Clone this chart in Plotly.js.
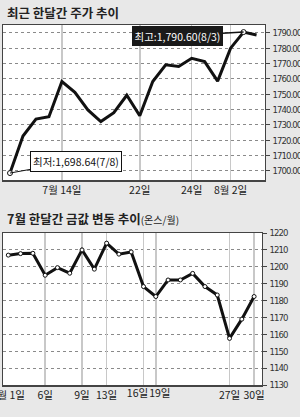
<!DOCTYPE html>
<html>
<head>
<meta charset="utf-8">
<script src="https://cdn.plot.ly/plotly-3.0.1.min.js"></script>
<style>
html,body{margin:0;padding:0;background:#e8e8e8;}
#chart{width:300px;height:417px;}
g.ytick text, g.y2tick text{letter-spacing:-0.9px;}
</style>
</head>
<body>
<div id="chart"></div>
<script>
// KOSPI — 최근 한달간 주가 추이
const stockDates = ['7/8','7/9','7/12','7/13','7/14','7/15','7/16','7/19','7/20','7/21','7/22','7/23','7/26','7/27','7/28','7/29','7/30','8/2','8/3','8/4'];
const stockValues = [1698.64,1722.8,1733.9,1735.4,1758.3,1751.3,1739.8,1732.2,1738.0,1749.4,1736.0,1758.3,1769.3,1768.2,1773.5,1771.3,1758.6,1780.1,1790.6,1788.7];
const stockTickDates = ['7/14','7/22','7/28','8/2'];
const stockTickLabels = ['7월 14일','22일','24일','8월 2일'];
const stockYTicks = [1700,1710,1720,1730,1740,1750,1760,1770,1780,1790];

// 금값 — 7월 한달간 금값 변동 추이
const goldDates = ['7/1','7/2','7/5','7/6','7/7','7/8','7/9','7/12','7/13','7/14','7/15','7/16','7/19','7/20','7/21','7/22','7/23','7/26','7/27','7/28','7/30'];
const goldValues = [1206.9,1207.8,1208.0,1195.0,1199.5,1196.2,1210.0,1198.6,1214.0,1207.5,1208.8,1188.3,1182.4,1192.2,1192.2,1196.1,1188.3,1183.3,1157.6,1169.0,1182.4];
const goldTickDates = ['7/1','7/6','7/9','7/13','7/27','7/30'];
const goldTickLabels = ['7월 1일','6일','9일','13일','27일','30일'];
const goldTickDateA = ['7/16'];
const goldTickLabelA = ['16일'];
const goldTickDateB = ['7/19'];
const goldTickLabelB = ['19일'];
const goldGridDates = ['7/6','7/9','7/13','7/16','7/19','7/27','7/30'];
const goldYTicks = [1130,1140,1150,1160,1170,1180,1190,1200,1210,1220];

const KR = "'Noto Sans CJK KR', sans-serif";
const NUM = "'DejaVu Sans Condensed', 'Liberation Sans', sans-serif";

const maxI = stockValues.indexOf(Math.max(...stockValues));
const minI = stockValues.indexOf(Math.min(...stockValues));
const fmt = v => v.toLocaleString('en-US',{minimumFractionDigits:2,maximumFractionDigits:2});

const traces = [
  {x: stockDates, y: stockValues, xaxis:'x', yaxis:'y', type:'scatter', mode:'lines',
   line:{color:'#111', width:3}},
  {x: [stockDates[minI], stockDates[maxI]], y: [stockValues[minI], stockValues[maxI]], xaxis:'x', yaxis:'y',
   type:'scatter', mode:'markers', marker:{size:5, color:'#fff', line:{color:'#111', width:1}}},
  {x: goldDates, y: goldValues, xaxis:'x2', yaxis:'y2', type:'scatter', mode:'lines+markers',
   line:{color:'#111', width:3}, marker:{size:4, color:'#fff', line:{color:'#111', width:1}}},
  {x: goldDates, y: goldValues, xaxis:'x3', yaxis:'y2', type:'scatter', mode:'none', showlegend:false},
  {x: goldDates, y: goldValues, xaxis:'x4', yaxis:'y2', type:'scatter', mode:'none', showlegend:false},
  {x: goldDates, y: goldValues, xaxis:'x5', yaxis:'y2', type:'scatter', mode:'none', showlegend:false}
];

const yCommon = {side:'right', showline:true, mirror:true, linecolor:'#444', linewidth:1.5,
  ticks:'outside', ticklen:4, tickcolor:'#444', tickfont:{family:NUM, size:9.5, color:'#333'},
  showgrid:true, gridcolor:'#8a8a8a', griddash:'dot', gridwidth:1, zeroline:false, fixedrange:true};

const goldRange = [-0.43,20.64];
const labelAxis = (vals, text, shift) => ({overlaying:'x2', anchor:'y2', type:'category', range:goldRange,
  matches:'x2', tickmode:'array', tickvals:vals, ticktext:text, tickangle:0, ticklabelshift:shift,
  tickfont:{family:KR, size:10.5, color:'#222'}, ticks:'', showgrid:false, zeroline:false, showline:false});

const layout = {
  width:300, height:417, margin:{l:0,r:0,t:0,b:0},
  paper_bgcolor:'#e8e8e8', plot_bgcolor:'#ffffff', showlegend:false, hovermode:false,
  xaxis:{domain:[0.01,0.8833], anchor:'y', type:'category', range:[-0.54,19.65],
    tickmode:'array', tickvals:stockTickDates, ticktext:stockTickLabels, tickangle:0,
    tickfont:{family:KR, size:10.5, color:'#222'}, ticks:'', showline:true, mirror:true,
    linecolor:'#444', linewidth:1.5, showgrid:true, gridcolor:'#c8c8c8', gridwidth:1.5, zeroline:false},
  yaxis:Object.assign({}, yCommon, {domain:[0.5683,0.94], anchor:'x', range:[1694.1,1795.2],
    tickmode:'array', tickvals:stockYTicks, ticktext:stockYTicks.map(v=>v.toFixed(2))}),
  xaxis2:{domain:[0.01,0.8733], anchor:'y2', type:'category', range:goldRange,
    tickmode:'array', tickvals:goldTickDates, ticktext:goldTickLabels, tickangle:0,
    tickfont:{family:KR, size:10.5, color:'#222'}, ticks:'', showline:true, mirror:true,
    linecolor:'#444', linewidth:1.5, showgrid:false, zeroline:false},
  xaxis3:{overlaying:'x2', anchor:'y2', type:'category', range:goldRange, matches:'x2',
    tickmode:'array', tickvals:goldGridDates, showticklabels:false, ticks:'',
    showgrid:true, gridcolor:'#c8c8c8', gridwidth:1.5, zeroline:false, showline:false},
  xaxis4:labelAxis(goldTickDateA, goldTickLabelA, -6),
  xaxis5:labelAxis(goldTickDateB, goldTickLabelB, 4),
  yaxis2:Object.assign({}, yCommon, {domain:[0.0767,0.4412], anchor:'x2', range:[1130,1220],
    tickmode:'array', tickvals:goldYTicks}),
  annotations:[
    {xref:'paper', yref:'paper', x:5/300, y:1-12/417, xanchor:'left', yanchor:'middle', showarrow:false,
     text:'<b>최근 한달간 주가 추이</b>', font:{family:KR, size:12.5, color:'#222'}},
    {xref:'paper', yref:'paper', x:5/300, y:1-219/417, xanchor:'left', yanchor:'middle', showarrow:false,
     text:'<b>7월 한달간 금값 변동 추이</b><span style="font-size:10px">(온스/월)</span>', font:{family:KR, size:12.5, color:'#222'}},
    {xref:'x', yref:'y', x:stockDates[maxI], y:stockValues[maxI], ax:-66, ay:4, showarrow:true,
     arrowhead:0, arrowwidth:1.5, arrowcolor:'#111', bgcolor:'#1a1a1a', bordercolor:'#1a1a1a', borderpad:1.5,
     text:'최고:'+fmt(stockValues[maxI])+'('+stockDates[maxI]+')', font:{family:KR, size:10.5, color:'#fff'}},
    {xref:'x', yref:'y', x:stockDates[minI], y:stockValues[minI], ax:66, ay:-12, showarrow:true,
     arrowhead:0, arrowwidth:1, arrowcolor:'#111', bgcolor:'#fff', bordercolor:'#111', borderwidth:1, borderpad:2,
     text:'최저:'+fmt(stockValues[minI])+'('+stockDates[minI]+')', font:{family:KR, size:10.5, color:'#111'}}
  ]
};

Plotly.newPlot('chart', traces, layout, {staticPlot:true, displayModeBar:false});
</script>
</body>
</html>
